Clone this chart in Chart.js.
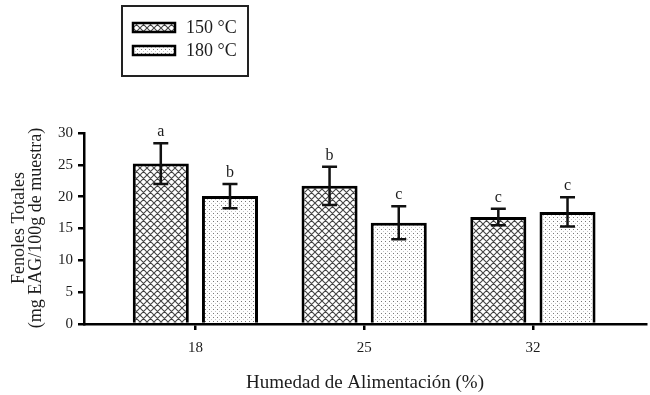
<!DOCTYPE html>
<html>
<head>
<meta charset="utf-8">
<script src="https://cdn.jsdelivr.net/npm/chart.js@4.4.1/dist/chart.umd.min.js"></script>
<style>
  body { margin: 0; background: #fff; }
  canvas { display: block; }
</style>
</head>
<body>
<canvas id="grafFenoles" width="650" height="395"></canvas>
<script>
// datos
const humedades = ['18', '25', '32'];
const posiciones = [1, 2, 3];
const fenoles150 = [25.2, 21.7, 16.8];
const fenoles180 = [20.1, 15.9, 17.6];
const error150 = [3.2, 3.0, 1.3];
const error180 = [1.9, 2.6, 2.3];
const letras150 = ['a', 'b', 'c'];
const letras180 = ['b', 'c', 'c'];
const yTicks = [0, 5, 10, 15, 20, 25, 30];

const SERIF = '"Liberation Serif", "Times New Roman", serif';
const TXT = '#1c1c1c';

function patronCruzado() {
    const c = document.createElement('canvas');
    c.width = 7; c.height = 7;
    const g = c.getContext('2d');
    g.fillStyle = '#fff';
    g.fillRect(0, 0, 7, 7);
    g.strokeStyle = '#444';
    g.lineWidth = 1.1;
    g.beginPath();
    g.moveTo(0, 0); g.lineTo(7, 7);
    g.moveTo(7, 0); g.lineTo(0, 7);
    g.moveTo(-3.5, 3.5); g.lineTo(3.5, 10.5);
    g.moveTo(3.5, -3.5); g.lineTo(10.5, 3.5);
    g.moveTo(3.5, -3.5); g.lineTo(-3.5, 3.5);
    g.moveTo(10.5, 3.5); g.lineTo(3.5, 10.5);
    g.stroke();
    return g.createPattern(c, 'repeat');
}

function patronPuntos() {
    const c = document.createElement('canvas');
    c.width = 4; c.height = 4;
    const g = c.getContext('2d');
    g.fillStyle = '#fff';
    g.fillRect(0, 0, 4, 4);
    g.fillStyle = '#777';
    g.fillRect(1, 1, 1, 1);
    g.fillStyle = '#c4c4c4';
    g.fillRect(3, 3, 1, 1);
    return g.createPattern(c, 'repeat');
}

const pat150 = patronCruzado();
const pat180 = patronPuntos();

const barrasError = {
    id: 'barrasError',
    afterDatasetsDraw(chart) {
        const ctx = chart.ctx;
        const y = chart.scales.y;
        chart.data.datasets.forEach((ds, i) => {
            const meta = chart.getDatasetMeta(i);
            meta.data.forEach((bar, j) => {
                const v = ds.data[j].y;
                const e = ds.errores[j];
                const yTop = y.getPixelForValue(v + e);
                const yBot = y.getPixelForValue(v - e);
                ctx.save();
                ctx.strokeStyle = '#111';
                ctx.lineWidth = 2.5;
                ctx.beginPath();
                ctx.moveTo(bar.x, yTop); ctx.lineTo(bar.x, yBot);
                ctx.moveTo(bar.x - 7.5, yTop); ctx.lineTo(bar.x + 7.5, yTop);
                ctx.moveTo(bar.x - 7.5, yBot); ctx.lineTo(bar.x + 7.5, yBot);
                ctx.stroke();
                ctx.fillStyle = TXT;
                ctx.font = '16px ' + SERIF;
                ctx.textAlign = 'center';
                ctx.textBaseline = 'alphabetic';
                ctx.fillText(ds.letras[j], bar.x, yTop - 7);
                ctx.restore();
            });
        });
    }
};

const extras = {
    id: 'extras',
    afterDraw(chart) {
        const ctx = chart.ctx;
        ctx.save();
        // leyenda
        ctx.strokeStyle = '#222';
        ctx.lineWidth = 2;
        ctx.strokeRect(122, 6, 126, 70);
        const pats = [pat150, pat180];
        chart.data.datasets.forEach((ds, i) => {
            const yy = 23 + i * 23;
            ctx.fillStyle = pats[i];
            ctx.fillRect(133, yy, 42, 9);
            ctx.lineWidth = 2.5;
            ctx.strokeStyle = '#000';
            ctx.strokeRect(133, yy, 42, 9);
            ctx.fillStyle = TXT;
            ctx.font = '18px ' + SERIF;
            ctx.textAlign = 'left';
            ctx.textBaseline = 'middle';
            ctx.fillText(ds.label, 186, yy + 5);
        });
        // titulo eje y
        ctx.translate(27, 228);
        ctx.rotate(-Math.PI / 2);
        ctx.font = '18px ' + SERIF;
        ctx.textAlign = 'center';
        ctx.textBaseline = 'middle';
        ctx.fillText('Fenoles Totales', 0, -8);
        ctx.fillText('(mg EAG/100g de muestra)', 0, 9);
        ctx.setTransform(1, 0, 0, 1, 0, 0);
        // titulo eje x
        ctx.font = '19px ' + SERIF;
        ctx.fillText('Humedad de Alimentación (%)', 365, 383);
        ctx.restore();
    }
};

const config = {
    type: 'bar',
    data: {
        datasets: [
            {
                label: '150 °C',
                data: posiciones.map((p, i) => ({ x: p, y: fenoles150[i] })),
                errores: error150,
                letras: letras150,
                backgroundColor: pat150,
                borderColor: '#000',
                borderWidth: 3,
                categoryPercentage: 0.82,
                barPercentage: 0.81
            },
            {
                label: '180 °C',
                data: posiciones.map((p, i) => ({ x: p, y: fenoles180[i] })),
                errores: error180,
                letras: letras180,
                backgroundColor: pat180,
                borderColor: '#000',
                borderWidth: 3,
                categoryPercentage: 0.82,
                barPercentage: 0.81
            }
        ]
    },
    options: {
        responsive: false,
        animation: false,
        layout: { padding: { top: 133, right: 4, left: 0, bottom: 0 } },
        plugins: {
            legend: { display: false },
            tooltip: { enabled: false }
        },
        scales: {
            x: {
                type: 'linear',
                offset: false,
                min: 0.34,
                max: 3.67,
                afterBuildTicks: (s) => { s.ticks = posiciones.map(v => ({ value: v })); },
                afterFit: (s) => { s.height = 395 - 324; },
                ticks: {
                    autoSkip: false,
                    maxRotation: 0,
                    padding: 9,
                    color: TXT,
                    font: { family: SERIF, size: 15 },
                    callback: (v) => humedades[posiciones.indexOf(v)]
                },
                grid: { offset: false, drawOnChartArea: false, tickLength: 6, lineWidth: 2.5, color: '#000' },
                border: { display: true, width: 2.5, color: '#000' }
            },
            y: {
                min: 0,
                max: 30,
                afterBuildTicks: (s) => { s.ticks = yTicks.map(v => ({ value: v })); },
                afterFit: (s) => { s.width = 84; },
                ticks: {
                    padding: 5,
                    color: TXT,
                    font: { family: SERIF, size: 15 }
                },
                grid: { drawOnChartArea: false, tickLength: 6, lineWidth: 2.5, color: '#000' },
                border: { display: true, width: 2.5, color: '#000' }
            }
        }
    },
    plugins: [barrasError, extras]
};

const ctx = document.getElementById('grafFenoles').getContext('2d');
window.graficaFenoles = new Chart(ctx, config);
</script>
</body>
</html>
